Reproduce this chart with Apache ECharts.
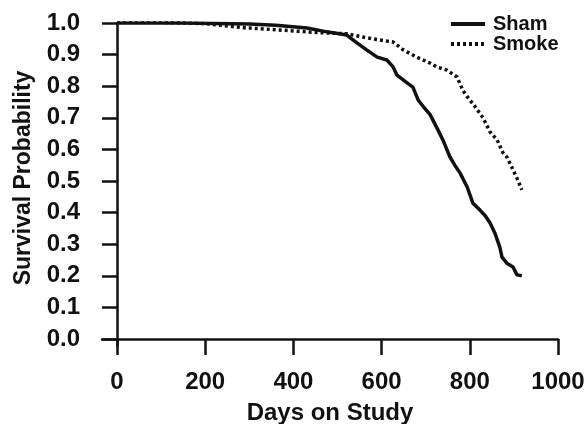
<!DOCTYPE html>
<html>
<head>
<meta charset="utf-8">
<script src="https://cdn.jsdelivr.net/npm/echarts@6/dist/echarts.min.js"></script>
<style>html,body{margin:0;padding:0;background:#fff}#c{width:587px;height:424px}</style>
</head>
<body>
<div id="c"></div>
<script>
var xTicks = [0, 200, 400, 600, 800, 1000];
var yTicks = [0, 0.1, 0.2, 0.3, 0.4, 0.5, 0.6, 0.7, 0.8, 0.9, 1.0];

var shamDays = [0, 150, 300, 360, 431, 476, 521, 544, 566, 590, 612, 626, 635, 649, 660, 671, 683, 695, 710, 728, 739, 755, 766, 778, 794, 807, 823, 835, 846, 857, 868, 873, 884, 898, 907, 918];
var shamSurv = [1.0, 1.0, 0.997, 0.993, 0.984, 0.972, 0.962, 0.937, 0.915, 0.892, 0.883, 0.861, 0.835, 0.82, 0.808, 0.797, 0.756, 0.735, 0.71, 0.661, 0.63, 0.576, 0.55, 0.525, 0.481, 0.43, 0.408, 0.39, 0.367, 0.335, 0.291, 0.259, 0.24, 0.228, 0.203, 0.2];

var smokeDays = [0, 100, 200, 295, 301, 453, 521, 560, 596, 626, 649, 680, 710, 725, 748, 771, 785, 800, 807, 830, 846, 862, 875, 884, 895, 907, 918];
var smokeSurv = [1.002, 1.002, 0.998, 0.984, 0.984, 0.97, 0.966, 0.955, 0.946, 0.94, 0.915, 0.892, 0.873, 0.861, 0.851, 0.829, 0.785, 0.756, 0.745, 0.70, 0.655, 0.63, 0.59, 0.576, 0.544, 0.509, 0.472];

function pairs(xs, ys) { return xs.map(function (x, i) { return [x, ys[i]]; }); }

var FONT = '"Liberation Sans", Arial, Helvetica, sans-serif';
var INK = '#111';

var chart = echarts.init(document.getElementById('c'), null, { renderer: 'canvas' });
chart.setOption({
  animation: false,
  backgroundColor: '#fff',
  grid: { left: 102, right: 29, top: 23, bottom: 78, containLabel: false, outerBoundsMode: 'none' },
  legend: {
    orient: 'vertical',
    left: 444,
    top: 9,
    itemWidth: 34,
    itemHeight: 10,
    itemGap: 0,
    itemStyle: { opacity: 0 },
    lineStyle: { width: 4 },
    textStyle: { fontFamily: FONT, fontWeight: 'bold', fontSize: 20, color: INK, lineHeight: 20, padding: [0, 0, 0, 3] },
    data: ['Sham', 'Smoke']
  },
  xAxis: {
    type: 'value',
    min: -34,
    max: 1000,
    name: 'Days on Study',
    nameLocation: 'middle',
    nameGap: 55,
    nameTextStyle: { fontFamily: FONT, fontWeight: 'bold', fontSize: 24, color: INK },
    splitLine: { show: false },
    axisLine: { show: true, lineStyle: { color: INK, width: 2.5 } },
    axisTick: { show: true, inside: false, length: 16, lineStyle: { color: INK, width: 2.5 }, customValues: xTicks },
    axisLabel: { customValues: xTicks, margin: 24, fontFamily: FONT, fontWeight: 'bold', fontSize: 24, color: INK,
      formatter: function (v) { return String(v); } }
  },
  yAxis: {
    type: 'value',
    min: -0.022,
    max: 1.0,
    name: 'Survival Probability',
    nameLocation: 'middle',
    nameGap: 67,
    nameTextStyle: { fontFamily: FONT, fontWeight: 'bold', fontSize: 23, color: INK, padding: [0, 0, 0, 13] },
    splitLine: { show: false },
    axisLine: { show: true, lineStyle: { color: INK, width: 2.5 } },
    axisTick: { show: true, inside: false, length: 15, lineStyle: { color: INK, width: 2.5 }, customValues: yTicks },
    axisLabel: {
      customValues: yTicks, margin: 22, fontFamily: FONT, fontWeight: 'bold', fontSize: 24, color: INK,
      formatter: function (v) { return v.toFixed(1); }
    }
  },
  series: [
    {
      name: 'Sham', type: 'line', showSymbol: false, symbol: 'none',
      data: pairs(shamDays, shamSurv),
      lineStyle: { color: INK, width: 3.5, type: 'solid' },
      itemStyle: { color: INK }
    },
    {
      name: 'Smoke', type: 'line', showSymbol: false, symbol: 'none',
      data: pairs(smokeDays, smokeSurv),
      lineStyle: { color: INK, width: 3.5, type: [3, 3] },
      itemStyle: { color: INK }
    }
  ]
});
</script>
</body>
</html>
